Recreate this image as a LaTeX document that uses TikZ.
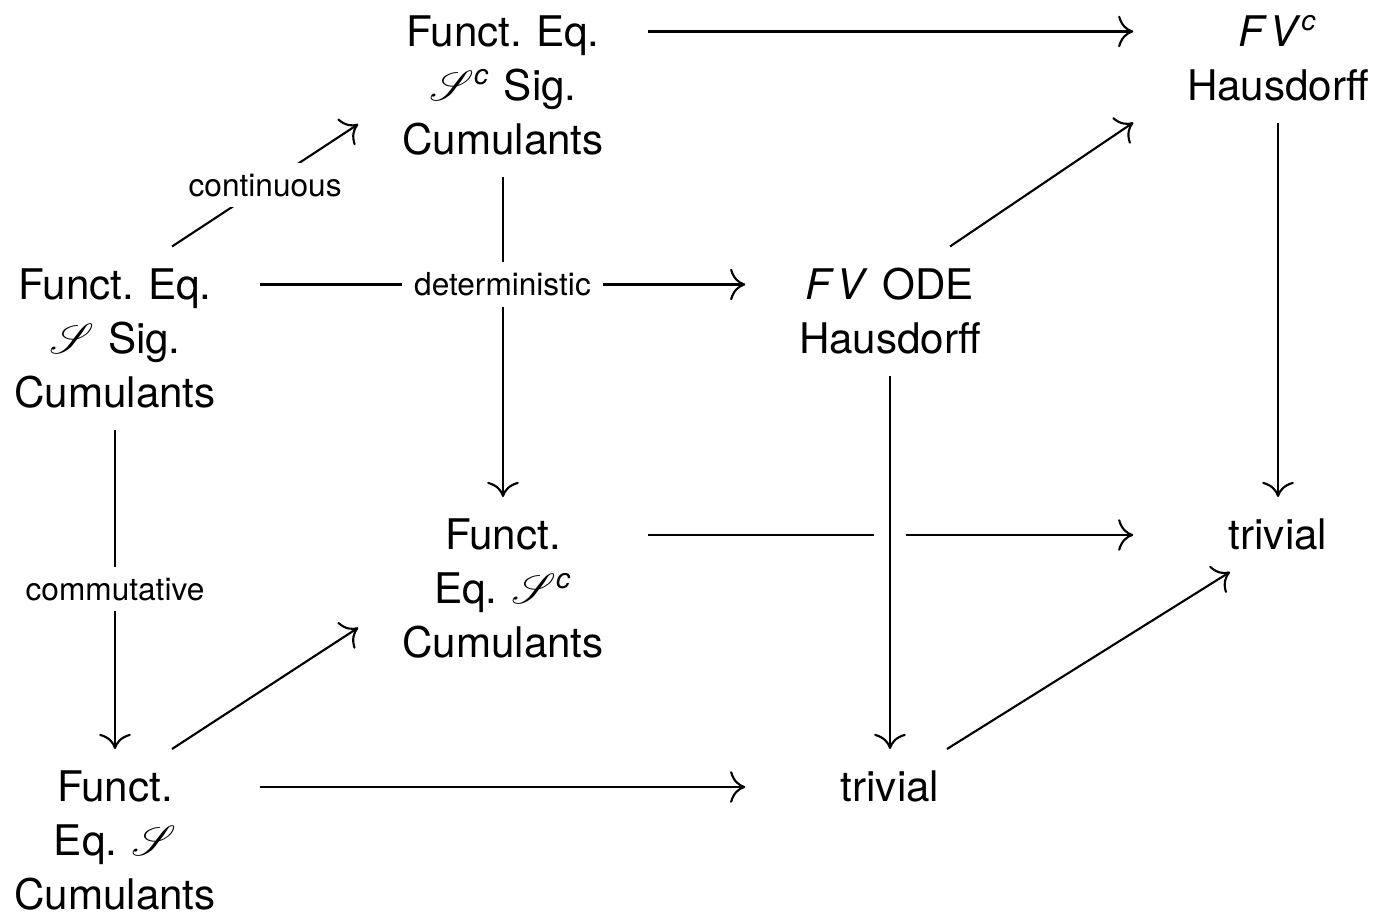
\documentclass[tikz,border=0pt]{standalone}
\usepackage{fontspec}
\setmainfont{TeX Gyre Heros}
\usepackage{amsmath}
\usepackage{mathrsfs}
\usetikzlibrary{arrows.meta}
\newcommand{\fvtext}{\textit{F\kern1.5pt V}}
\frenchspacing
\tikzset{
	cubenode/.style={anchor=north, text width=2.6cm, align=center, inner xsep=4pt, inner ysep=6pt, font=\fontsize{12}{15.4}\selectfont},
	edgelabel/.style={fill=white, inner xsep=3.5pt, inner ysep=3pt, font=\fontsize{9}{11}\selectfont},
	morph/.style={line width=0.6pt, -{To[length=4.3pt, width=9pt]}}
}
\begin{document}
\begin{tikzpicture}
	\useasboundingbox (0,0) rectangle (13.77,9.21);
	\node[cubenode] (fescsig) at (5.03,9.275) {Funct. Eq.\\ $\mathscr{S}^{\textit{c}}$ Sig.\\ Cumulants};
	\node[cubenode] (fvc) at (12.78,9.275) {\fvtext$^{\textit{c}}$\\ Hausdorff};
	\node[cubenode] (fesig) at (1.15,6.745) {Funct. Eq.\\ $\mathscr{S}$ Sig.\\ Cumulants};
	\node[cubenode] (fvode) at (8.90,6.745) {\fvtext{} ODE\\ Hausdorff};
	\node[cubenode] (fesc) at (5.03,4.24) {Funct.\\ Eq. $\mathscr{S}^{\textit{c}}$\\ Cumulants};
	\node[cubenode] (triv3) at (12.78,4.24) {trivial};
	\node[cubenode] (fes) at (1.15,1.72) {Funct.\\ Eq. $\mathscr{S}$\\ Cumulants};
	\node[cubenode] (triv4) at (8.90,1.72) {trivial};
	\draw[morph] ([yshift=-3.8mm]fescsig.north east) -- ([yshift=-3.8mm]fvc.north west);
	\draw[morph] (fescsig.south) -- (fesc.north);
	\draw[morph] (fvc.south) -- (triv3.north);
	\draw[morph] ([xshift=5.7mm]fesig.north) -- ([yshift=-3.9mm]fescsig.west) node[midway, edgelabel] {continuous};
	\draw[morph] ([yshift=-3.8mm]fesig.north east) -- ([yshift=-3.8mm]fvode.north west) node[midway, edgelabel] {deterministic};
	\draw[morph] (fesig.south) -- (fes.north) node[midway, edgelabel] {commutative};
	\draw[morph] ([xshift=6mm]fvode.north) -- (fvc.south west);
	\draw[morph] ([yshift=-3.8mm]fesc.north east) -- ([yshift=-3.8mm]triv3.north west);
	\draw[morph, preaction={draw, white, line width=9pt, -}] (fvode.south) -- (triv4.north);
	\draw[morph] ([xshift=5.7mm]fes.north) -- ([yshift=-3.9mm]fesc.west);
	\draw[morph] ([yshift=-3.8mm]fes.north east) -- ([yshift=-3.8mm]triv4.north west);
	\draw[morph] ([xshift=5.7mm]triv4.north) -- ([xshift=-4.8mm]triv3.south);
\end{tikzpicture}
\end{document}
